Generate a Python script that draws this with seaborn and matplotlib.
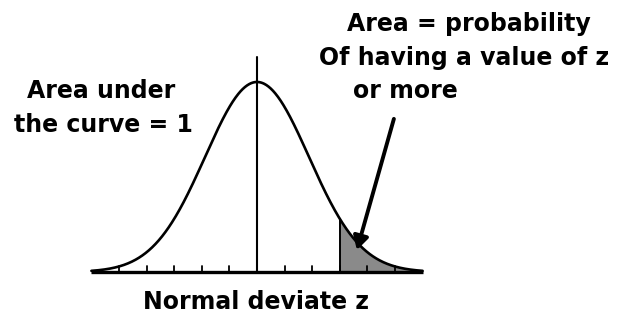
import numpy as np
import pandas as pd
import matplotlib
matplotlib.use("Agg")
import matplotlib.pyplot as plt
import seaborn as sns

# Normal curve: z axis with ticks every half unit, tail shaded from z_cut upward
z_min, z_max = -3.0, 3.0
curve_sd = 0.94
z_cut = 1.5
tick_positions = [-2.5, -2.0, -1.5, -1.0, -0.5, 0.5, 1.0, 1.5, 2.0, 2.5]
center_line_top = 0.48

label_left = ["Area under", "the curve = 1"]
label_right = ["Area = probability", "Of having a value of z", "or more"]
axis_label = "Normal deviate z"

z = np.linspace(z_min, z_max, 601)
density = np.exp(-0.5 * (z / curve_sd) ** 2) / (curve_sd * np.sqrt(2 * np.pi))
df = pd.DataFrame({"z": z, "density": density})

sns.set_style("white")
plt.rcParams["font.family"] = ["DejaVu Sans"]

fig = plt.figure(figsize=(6.2, 3.2), dpi=100)
ax = fig.add_axes([0, 0, 1, 1])
ax.set_xlim(-257 / 55.2, 363 / 55.2)
ax.set_ylim(-0.1072, 0.6075)
ax.axis("off")

# shaded upper tail
tail = df[df["z"] >= z_cut]
ax.fill_between(tail["z"], 0, tail["density"], color="#8a8a8a", lw=0, zorder=1)
cut_height = np.interp(z_cut, df["z"], df["density"])
ax.plot([z_cut, z_cut], [0, cut_height], color="black", lw=1.4, zorder=3)

# the curve
sns.lineplot(data=df, x="z", y="density", color="black", lw=1.9, ax=ax, zorder=4)

# baseline, ticks and centre line
ax.plot([z_min, z_max], [0, 0], color="black", lw=2.4, zorder=5, solid_capstyle="butt")
for t in tick_positions:
    ax.plot([t, t], [0, 0.013], color="black", lw=1.3, zorder=5)
ax.plot([0, 0], [0, center_line_top], color="black", lw=1.5, zorder=5)

# arrow pointing into the shaded tail
ax.annotate("", xy=(1.81, 0.049), xytext=(2.48, 0.342),
            arrowprops=dict(arrowstyle="-|>,head_length=0.8,head_width=0.45",
                            color="black", lw=2.8, shrinkA=0, shrinkB=0),
            zorder=6)

text_kw = dict(transform=ax.transAxes, fontweight="bold", fontsize=17,
               ha="center", va="baseline", color="black")
W, H = 620.0, 320.0
ax.text(101 / W, 1 - 98 / H, label_left[0], **text_kw)
ax.text(103 / W, 1 - 132 / H, label_left[1], **text_kw)
ax.text(469 / W, 1 - 31 / H, label_right[0], **text_kw)
ax.text(464 / W, 1 - 65 / H, label_right[1], **text_kw)
ax.text(405 / W, 1 - 98 / H, label_right[2], **text_kw)
ax.text(256 / W, 1 - 309 / H, axis_label, **text_kw)

fig.savefig("out.png", dpi=100, facecolor="white")
